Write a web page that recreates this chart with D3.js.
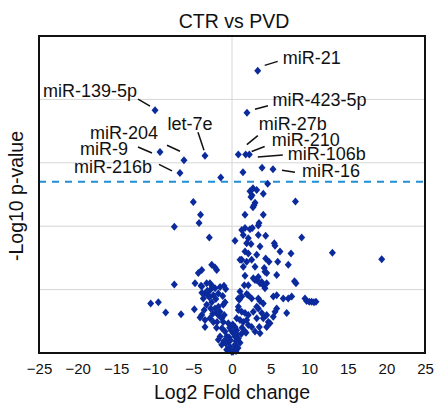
<!DOCTYPE html>
<html>
<head>
<meta charset="utf-8">
<script src="https://cdn.jsdelivr.net/npm/d3@7"></script>
<style>
  body { margin: 0; background: #fff; }
  text { font-family: "Liberation Sans", Arial, sans-serif; }
</style>
</head>
<body>
<script>
// labelled miRNAs
const mirNames = ["miR-21", "miR-139-5p", "miR-423-5p", "let-7e", "miR-27b", "miR-210",
  "miR-106b", "miR-16", "miR-204", "miR-9", "miR-216b"]
const mirFold = [3.33, -9.97, 1.94, -3.50, 0.82, 1.77, 2.24, 5.31, -6.22, -9.33, -6.74]
const mirLogP = [4.45, 3.83, 3.79, 3.11, 3.13, 3.13, 3.13, 2.90, 3.04, 3.17, 2.84]

// all the other points
const foldChange = [3.89, -1.46, 1.42, 4.62, 2.72, 3.20, 2.33, 4.05, 2.59, 2.46, -5.01, 8.22, 2.98, 2.72, 2.85,
  -4.08, 1.68, 4.05, -4.27, 3.50, 3.41, -7.47, 1.26, 1.68, 2.33, 2.63, 1.46, 3.41, 4.36, -2.94, 9.03, 2.11,
  0.39, 1.90, 2.46, 5.48, 5.57, 3.63, 1.68, 2.11, 6.22, 7.64, 13.01, 3.20, 19.39, 1.26, 1.90, 2.55, 4.36,
  4.79, 5.92, 7.29, -2.63, -2.20, 1.46, 2.98, 4.18, -3.92, -4.36, -1.98, 4.27, 4.49, 1.04,
  5.79, 1.68, 2.76, 3.20, 3.41, 3.85, 8.09, 8.29, 4.05, 4.27, 2.11, -7.47, -4.79, -3.92, -2.85, 1.04, 0.82,
  1.26, 2.11, 2.55, 3.41, 3.63, 5.35, 5.79, 6.64, 7.29, 7.73, 9.45, 9.67, 10.01, 10.32, 10.62, 10.88, -1.13,
  -10.53, -9.54, -8.59, -6.60, -4.88, -3.28, -2.85, -2.20, -1.55, -1.04, -0.82, -3.72, -3.07, -3.50, -2.42,
  -2.94, -2.63, -1.77, -4.01, -2.20, -1.77, -3.92, -4.14, -3.50, -2.85, -2.42, -3.50, -1.55, -1.77, -1.33,
  -1.13, -0.48, 0.82, 1.26, 0.61, 1.04, 1.46, 2.11, 2.76, 3.41, 3.85, 3.20, 4.05, 4.49, 4.70, 5.79, 7.08,
  2.55, -1.94, 3.20, 4.05, 3.54, 4.49, 4.92, 5.35, 5.57, 1.90, 0.95, 1.68, 1.90, 2.11, 1.81, 2.98, 3.63,
  1.68, 0.39, 0.61, 0.17, 0.39, 0.82, -0.91, -0.69, -0.48, -0.26, -0.69, -0.04, -1.77, -1.33, -1.55, 0.39,
  0.78, 0.13, 1.04, -1.04, -0.39, 0.52, -1.30, -0.13, -0.52, 0.52,
  -2.76, -1.98, -3.28, 0.82, 1.59, 2.98, 3.63, 4.49,
  -3.20, -2.50, -3.90, -2.10, -1.20, -3.60, -2.50, -2.00, -1.00, -0.90,
  -0.30, 0.10, -0.80, 0.30, -0.20, 0.60, 1.20, 1.30]
const negLog10P = [2.92, 2.77, 2.85, 2.67, 2.60, 2.57, 2.55, 2.51, 2.49, 2.46, 2.38, 2.39, 2.37, 2.30, 2.33,
  2.18, 2.18, 2.18, 2.05, 2.05, 2.01, 1.99, 1.94, 1.97, 1.95, 1.97, 1.86, 1.86, 1.85, 1.82, 1.82, 1.81,
  1.77, 1.73, 1.72, 1.73, 1.69, 1.68, 1.60, 1.57, 1.60, 1.57, 1.58, 1.55, 1.48, 1.47, 1.44, 1.47, 1.49,
  1.44, 1.44, 1.39, 1.39, 1.35, 1.36, 1.36, 1.34, 1.31, 1.26, 1.31, 1.28, 1.26, 1.47,
  1.23, 1.22, 1.18, 1.15, 1.20, 1.12, 1.13, 1.10, 1.07, 1.02, 1.07, 1.08, 1.10, 1.05, 1.10, 0.97, 0.86,
  0.89, 0.91, 0.86, 0.86, 0.82, 0.89, 0.91, 0.86, 0.86, 0.89, 0.86, 0.82, 0.81, 0.81, 0.80, 0.81, 0.76,
  0.78, 0.80, 0.64, 0.61, 0.69, 1.10, 0.99, 1.02, 1.04, 1.06, 1.01, 0.86, 0.91, 0.94, 0.91,
  0.88, 0.80, 0.94, 1.06, 0.70, 0.73, 0.60, 0.56, 0.52, 0.55, 0.49, 0.41, 0.65, 0.60, 0.55,
  0.49, 0.47, 0.68, 0.65, 0.55, 0.52, 0.49, 0.60, 0.65, 0.70, 0.63, 0.55, 0.55, 0.60, 0.49, 0.70, 0.63,
  0.41, 0.49, 0.73, 0.78, 0.41, 0.41, 0.47, 0.57, 0.65, 0.93, 0.84, 0.63, 0.52, 0.44, 0.32, 0.34, 0.31,
  0.34, 0.41, 0.36, 0.31, 0.26, 0.23, 0.34, 0.26, 0.18, 0.10, 0.05, 0.02, 0.21, 0.13, 0.26, 0.13,
  0.08, 0.02, 0.16, 0.19, 0.25, 0.19, 0.39, 0.36, 0.06, 0.03,
  0.70, 0.63, 0.76, 0.73, 1.07, 1.15, 1.10, 1.10,
  0.98, 1.05, 0.95, 0.85, 0.90, 0.68, 0.62, 0.40, 0.60, 0.80,
  0.40, 0.45, 0.15, 0.06, 0.20, 0.30, 0.30, 0.40]

const xTicks = [-25, -20, -15, -10, -5, 0, 5, 10, 15, 20, 25]
const yGrid = [1, 2, 3, 4]
const threshold = 2.7

// label placement, pixel offsets from the point: text (dx, dy, anchor), leader line (x1,y1,x2,y2)
const labelPos = [
  [25, -6.5, "start", 7, -5.5, 20, -9.5],
  [-18, -13, "end", -17, -11, -5, -4],
  [25.5, -6.5, "start", 8, -3.5, 21, -7],
  [-15, -25.5, "middle", -7, -23.5, -1, -5.5],
  [20.5, -24.5, "start", 19.5, -19, 8.5, -10],
  [26, -9, "start", 19, -8, 6, -3],
  [38.5, 5.5, "start", 8.5, 2.5, 33.5, 0.5],
  [29, 7.5, "start", 9, 1, 22, 3],
  [-26, -21, "end", -17, -15, -4, -9],
  [-32, 3, "end", -22, -5, -8, 1],
  [-28, 0, "end", -21, -8.5, -8, -2]
]

var W = 438, H = 403
var margin = { top: 36, right: 13, bottom: 50, left: 39 }
var w = W - margin.left - margin.right
var h = H - margin.top - margin.bottom

var svg = d3.select("body")
  .append("svg")
  .attr("width", W)
  .attr("height", H)

var g = svg.append("g")
  .attr("transform", "translate(" + margin.left + "," + margin.top + ")")

var x = d3.scaleLinear().domain([-25, 25]).range([0, w])
var y = d3.scaleLinear().domain([0, 5]).range([h, 0])

// grid
g.selectAll(".hgrid")
  .data(yGrid)
  .enter()
  .append("line")
  .attr("x1", 0).attr("x2", w)
  .attr("y1", d => y(d)).attr("y2", d => y(d))
  .style("stroke", "#d6d6d6")
  .style("stroke-width", 1)

g.append("line")
  .attr("x1", x(0)).attr("x2", x(0))
  .attr("y1", 0).attr("y2", h)
  .style("stroke", "#d6d6d6")
  .style("stroke-width", 1)

// significance line
g.append("line")
  .attr("x1", 0).attr("x2", w)
  .attr("y1", y(threshold)).attr("y2", y(threshold))
  .style("stroke", "#1f8fd6")
  .style("stroke-width", 2)
  .style("stroke-dasharray", "7,6")

// x axis
var xAxis = g.append("g")
  .attr("transform", "translate(0," + h + ")")
  .call(d3.axisBottom(x).tickValues(xTicks).tickSize(0).tickPadding(10).tickFormat(d3.format("d")))
xAxis.select(".domain").remove()
xAxis.selectAll("text")
  .style("font-size", "15px")
  .style("fill", "#111")
  .style("font-family", '"Liberation Sans", Arial, sans-serif')

// diamond marker
var diamond = {
  draw: function (ctx) {
    ctx.moveTo(0, -4)
    ctx.lineTo(3.5, 0)
    ctx.lineTo(0, 4)
    ctx.lineTo(-3.5, 0)
    ctx.closePath()
  }
}
var pts = foldChange.map((d, i) => ({ fc: d, p: negLog10P[i] }))
var labelled = mirNames.map((d, i) => ({ name: d, fc: mirFold[i], p: mirLogP[i], pos: labelPos[i] }))

g.append("g")
  .selectAll("path")
  .data(pts.concat(labelled))
  .enter()
  .append("path")
  .attr("d", d3.symbol().type(diamond))
  .attr("transform", d => "translate(" + x(d.fc) + "," + y(d.p) + ")")
  .style("fill", "#0b2a9c")

// labels
var lab = g.append("g")
  .selectAll("g")
  .data(labelled)
  .enter()
  .append("g")
  .attr("transform", d => "translate(" + x(d.fc) + "," + y(d.p) + ")")

lab.append("line")
  .attr("x1", d => d.pos[3]).attr("y1", d => d.pos[4])
  .attr("x2", d => d.pos[5]).attr("y2", d => d.pos[6])
  .style("stroke", "#111")
  .style("stroke-width", 1.5)

lab.append("text")
  .attr("x", d => d.pos[0])
  .attr("y", d => d.pos[1])
  .attr("text-anchor", d => d.pos[2])
  .style("font-size", "18px")
  .style("fill", "#111")
  .text(d => d.name)

// frame
g.append("rect")
  .attr("width", w).attr("height", h)
  .style("fill", "none")
  .style("stroke", "#111")
  .style("stroke-width", 2)

// titles
svg.append("text")
  .attr("x", margin.left + w / 2 + 2)
  .attr("y", 28)
  .attr("text-anchor", "middle")
  .style("font-size", "19.5px")
  .style("fill", "#111")
  .text("CTR vs PVD")

svg.append("text")
  .attr("x", margin.left + w / 2)
  .attr("y", 399)
  .attr("text-anchor", "middle")
  .style("font-size", "19.5px")
  .style("fill", "#111")
  .text("Log2 Fold change")

svg.append("text")
  .attr("transform", "translate(23," + 196 + ") rotate(-90)")
  .attr("text-anchor", "middle")
  .style("font-size", "19.5px")
  .style("fill", "#111")
  .text("-Log10 p-value")
</script>
</body>
</html>
